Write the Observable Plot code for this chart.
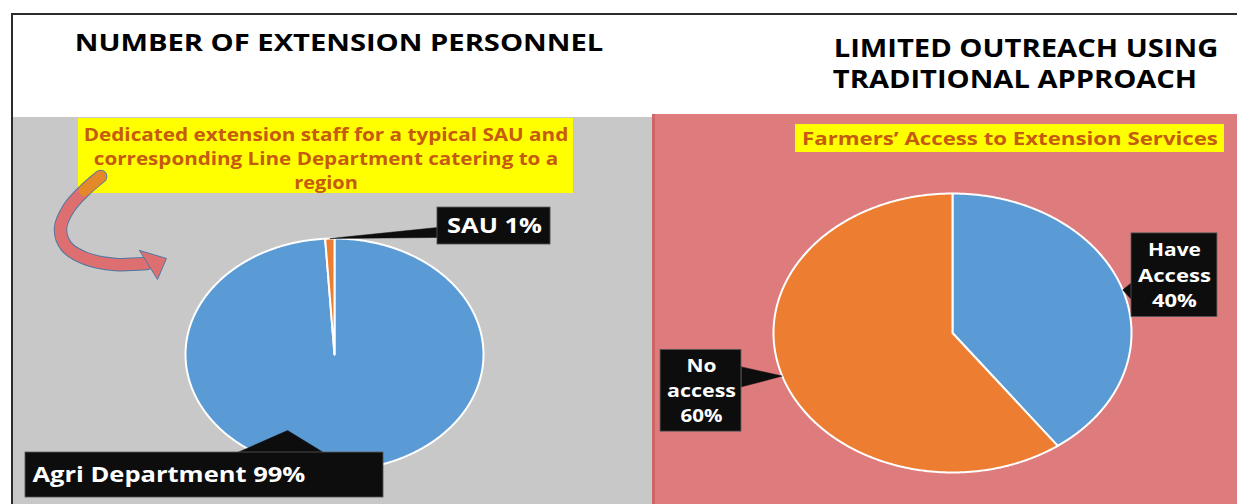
<!DOCTYPE html>
<html><head><meta charset="utf-8">
<script src="https://cdn.jsdelivr.net/npm/d3@7"></script>
<script src="https://cdn.jsdelivr.net/npm/@observablehq/plot@0.6"></script>
<style>
html,body{margin:0;padding:0;background:#fff;}
#page{position:relative;width:1237px;height:504px;overflow:hidden;background:#fff;font-family:"Open Sans",sans-serif;}
.box{position:absolute;}
.t{position:absolute;white-space:nowrap;font-weight:700;line-height:1;font-family:"Open Sans",sans-serif;}
svg{position:absolute;}
</style></head><body><div id="page"></div>
<script>
// ---------- data ----------
const staffCategories = ["Agri Department", "SAU"];
const staffShares = [99, 1];
const accessCategories = ["Have Access", "No access"];
const accessShares = [40, 60];
const sliceColors = ["#5b9bd5", "#ed7d31"];

const leftTitle = "NUMBER OF EXTENSION PERSONNEL";
const rightTitle = ["LIMITED OUTREACH USING", "TRADITIONAL APPROACH"];
const leftNote = ["Dedicated extension staff for a typical SAU and", "corresponding Line Department catering to a", "region"];
const rightNote = "Farmers\u2019 Access to Extension Services";

// ---------- layout (pie-radius units inside each panel) ----------
const staffLabelLayout = {
  "Agri Department": {box:{x1:-2.074,x2:0.329,y1:-1.233,y2:-0.845}, tx:-2.027, anchor:"start", lineY:[-1.043], widths:[273],
                      base:[[-0.651,-0.845],[-0.074,-0.845]], apex:[-0.315,-0.655]},
  "SAU": {box:{x1:0.691,x2:1.450,y1:0.948,y2:1.267}, tx:1.074, anchor:"middle", lineY:[1.103], widths:[95],
          base:[[0.691,1.095],[0.691,1.009]], apex:null}
};
const accessLabelLayout = {
  "Have Access": {box:{x1:1.0,x2:1.480,y1:0.114,y2:0.714}, tx:1.240, anchor:"middle", lineY:[0.593,0.407,0.229], widths:[53,73,45],
                  base:[[1.0,0.36],[1.0,0.24]], apex:null},
  "No access": {box:{x1:-1.631,x2:-1.179,y1:-0.707,y2:-0.121}, tx:-1.402, anchor:"middle", lineY:[-0.236,-0.421,-0.6], widths:[30,69,42],
                base:[[-1.179,-0.243],[-1.179,-0.386]], apex:null}
};
const arrowPath = [[-1.570,1.534],[-1.678,1.414],[-1.785,1.259],[-1.839,1.086],[-1.799,0.931],[-1.671,0.828],[-1.470,0.776],[-1.262,0.784]];
const arrowHead = [[-1.309,0.897],[-1.128,0.828],[-1.188,0.647],[-1.309,0.897]];

const page = document.getElementById("page");

function div(l,t,w,h,bg){const d=document.createElement("div");d.className="box";Object.assign(d.style,{left:l+"px",top:t+"px",width:w+"px",height:h+"px",background:bg});page.appendChild(d);return d;}
function text(str,cx,cy,size,target,color){
  const el=document.createElement("div");el.className="t";el.textContent=str;
  el.style.fontSize=size+"px";el.style.color=color;page.appendChild(el);
  const k=target/el.offsetWidth;
  el.style.left=cx+"px";el.style.top=cy+"px";
  el.style.transform=`translate(-50%,-50%) scale(${k},1)`;
}

// frame and panels
div(0,0,1237,504,"#fff");
div(13,117,639,387,"#c8c8c8");
div(652,114,585,390,"#de7b7d");
div(652,114,3,390,"#cc6668");
div(11,13,1226,2,"#2b2b2b");
div(11,13,2,491,"#2b2b2b");

// titles
text(leftTitle,339,41.5,23,528,"#000");
text(rightTitle[0],1025.5,46.5,25,385,"#000");
text(rightTitle[1],1015,77.5,25,364,"#000");

// yellow notes
div(78,118,495,75,"#ffff00");
const noteW=[485,464,63];
leftNote.forEach((s,i)=>text(s,325.5,133.5+i*24,18,noteW[i],"#c55a11"));
div(795,124,429,28,"#ffff00");
text(rightNote,1010,137.5,18,416,"#c55a11");

// ---------- pies ----------
function slices(values,cats){
  const total=d3.sum(values);let acc=0;
  return values.map((v,i)=>{
    const a0=acc/total*2*Math.PI;acc+=v;const a1=acc/total*2*Math.PI;
    const n=Math.max(2,Math.ceil((a1-a0)/(Math.PI/360)));
    const pts=[{x:0,y:0}];
    for(let k=0;k<=n;k++){const a=a0+(a1-a0)*k/n;pts.push({x:Math.sin(a),y:Math.cos(a)});}
    pts.push({x:0,y:0});
    const m=(a0+a1)/2;
    return {cat:cats[i],value:v,color:sliceColors[i],pts,mid:[Math.sin(m),Math.cos(m)]};
  });
}

function calloutMarks(sl,layout,fontSize,lineFn){
  const marks=[];const targets=new Map();
  sl.forEach(s=>{
    const L=layout[s.cat];const apex=L.apex||s.mid;
    const poly=[L.base[0],apex,L.base[1],L.base[0]].map(([x,y])=>({x,y}));
    marks.push(Plot.line(poly,{x:"x",y:"y",fill:"#0d0d0d",stroke:"#0d0d0d",strokeWidth:0.5}));
    marks.push(Plot.rect([L.box],{x1:"x1",x2:"x2",y1:"y1",y2:"y2",fill:"#0d0d0d",stroke:"#5a5a5a",strokeWidth:0.8}));
    const lines=lineFn(s).map((t,i)=>({t,x:L.tx,y:L.lineY[i]}));
    lines.forEach((l,i)=>targets.set(l.t,L.widths[i]));
    marks.push(Plot.text(lines,{x:"x",y:"y",text:"t",fill:"white",fontSize,fontWeight:700,fontFamily:"Open Sans",textAnchor:L.anchor}));
  });
  return {marks,targets};
}

function stretch(svg,targets){
  svg.querySelectorAll("text").forEach(el=>{
    const w=targets.get(el.textContent);if(!w)return;
    const bw=el.getBBox().width;if(!bw)return;
    let t=el.getAttribute("transform");
    if(!t){const x=+el.getAttribute("x")||0,y=+el.getAttribute("y")||0;el.removeAttribute("x");el.removeAttribute("y");t=`translate(${x},${y})`;}
    el.setAttribute("transform",t+` scale(${w/bw},1)`);
  });
}

function pieMarks(sl){
  return sl.map(s=>Plot.line(s.pts,{x:"x",y:"y",fill:s.color,stroke:"white",strokeWidth:2,strokeLinejoin:"round"}));
}

// left plot
const staffSlices=slices(staffShares,staffCategories);
const leftCall=calloutMarks(staffSlices,staffLabelLayout,21,s=>[`${s.cat} ${s.value}%`]);
const pts=a=>a.map(([x,y])=>({x,y}));
const leftPlot=Plot.plot({
  width:639,height:387,margin:0,
  x:{domain:[-2.1544,2.1342],axis:null},
  y:{domain:[-1.2931,2.0431],axis:null},
  style:{background:"transparent",overflow:"visible"},
  marks:[
    Plot.line(pts(arrowPath),{x:"x",y:"y",curve:"catmull-rom",stroke:"#4f77a3",strokeWidth:13.5}),
    Plot.line(pts(arrowPath),{x:"x",y:"y",curve:"catmull-rom",stroke:"#dd6f71",strokeWidth:11.5}),
    Plot.line(pts(arrowPath.slice(0,2)),{x:"x",y:"y",stroke:"#e4892a",strokeWidth:11.5}),
    Plot.line(pts(arrowHead),{x:"x",y:"y",fill:"#dd6f71",stroke:"#4f77a3",strokeWidth:1}),
    ...pieMarks(staffSlices),
    ...leftCall.marks
  ]
});
leftPlot.style.left="13px";leftPlot.style.top="117px";
page.appendChild(leftPlot);
stretch(leftPlot,leftCall.targets);

// right plot
const accessSlices=slices(accessShares,accessCategories);
const rightCall=calloutMarks(accessSlices,accessLabelLayout,18,s=>[...s.cat.split(" "),`${s.value}%`]);
const rightPlot=Plot.plot({
  width:585,height:390,margin:0,
  x:{domain:[-1.6760,1.5922],axis:null},
  y:{domain:[-1.2294,1.5663],axis:null},
  style:{background:"transparent",overflow:"visible"},
  marks:[
    ...pieMarks(accessSlices),
    ...rightCall.marks
  ]
});
rightPlot.style.left="652px";rightPlot.style.top="114px";
page.appendChild(rightPlot);
stretch(rightPlot,rightCall.targets);
</script></body></html>
